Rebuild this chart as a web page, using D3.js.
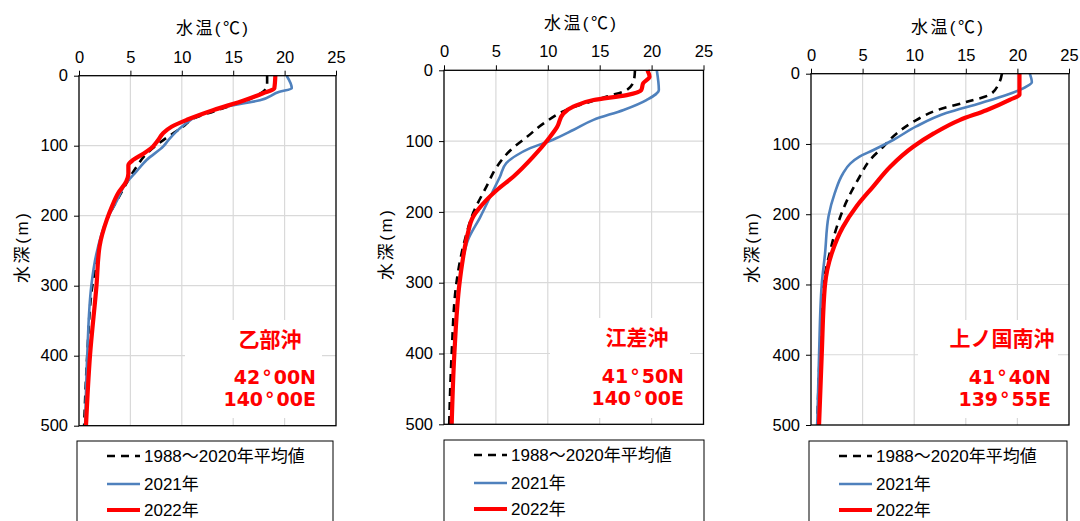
<!DOCTYPE html>
<html><head><meta charset="utf-8">
<script src="https://cdn.jsdelivr.net/npm/d3@7"></script>
<style>
body{margin:0;background:#fff;}
svg{display:block;font-family:"Liberation Sans","Noto Sans CJK JP",sans-serif;}
</style></head>
<body><svg id="c" width="1080" height="521"></svg>
<script>
// ---- data ----
const tempTicks = [0, 5, 10, 15, 20, 25];
const depthTicks = [0, 100, 200, 300, 400, 500];
const legendLabels = ["1988～2020年平均値", "2021年", "2022年"];
const stationNames = ["乙部沖", "江差沖", "上ノ国南沖"];
const stationLat = [["42", "00N"], ["41", "50N"], ["41", "40N"]];
const stationLon = [["140", "00E"], ["140", "00E"], ["139", "55E"]];

// [depth(m), temperature(°C)]
const otobeAvg = [[0,18.3],[15,18.3],[30,17.1],[51,13.1],[60,11.3],[73,10.1],[92,8.2],[111,6.6],[130,5.6],[149,4.8],[178,3.7],[206,2.7],[250,1.9],[300,1.3],[400,0.8],[500,0.5]];
const otobe2021 = [[0,20.2],[18,20.7],[23,19.5],[35,17.6],[44,14.4],[56,11.8],[73,10.0],[92,8.7],[101,8.2],[120,6.6],[140,5.4],[153,4.6],[178,3.7],[206,2.7],[254,1.7],[300,1.2],[400,0.8],[500,0.6]];
const otobe2022 = [[0,19.1],[18,19.0],[25,17.9],[35,16.1],[49,13.1],[63,10.5],[73,9.0],[82,8.2],[92,7.7],[101,7.2],[111,6.3],[120,5.3],[128,4.8],[140,4.8],[151,4.6],[168,3.8],[187,3.2],[206,2.7],[244,2.0],[300,1.7],[400,1.07],[500,0.68]];

const esashiAvg = [[0,18.4],[14,18.3],[28,17.6],[37,15.7],[56,11.8],[75,9.6],[94,8.0],[113,6.4],[136,5.1],[164,4.1],[202,2.8],[240,2.0],[300,1.2],[400,0.74],[500,0.5]];
const esashi2021 = [[0,20.5],[28,20.7],[42,19.5],[56,17.3],[70,14.4],[84,12.5],[98,10.5],[110,8.3],[120,7.0],[131,6.0],[150,5.4],[174,4.6],[207,3.5],[240,2.3],[268,1.8],[300,1.5],[400,1.0],[500,0.75]];
const esashi2022 = [[0,19.6],[9,19.8],[18,19.2],[28,19.0],[35,17.6],[42,14.4],[51,12.5],[61,11.5],[80,10.9],[98,10.0],[122,8.6],[150,6.7],[169,5.1],[183,4.1],[193,3.5],[207,2.8],[230,2.3],[268,1.8],[300,1.5],[400,1.0],[500,0.74]];

const kaminokuniAvg = [[0,18.5],[14,18.2],[30,17.3],[40,15.1],[52,12.2],[66,10.2],[85,8.3],[104,7.0],[123,5.7],[147,4.7],[180,3.5],[218,2.5],[256,1.8],[300,1.2],[400,0.85],[500,0.6]];
const kaminokuni2021 = [[0,21.2],[12,21.4],[18,20.9],[30,19.0],[42,16.4],[56,13.1],[75,10.2],[94,8.0],[109,6.0],[118,4.7],[128,3.8],[142,3.1],[170,2.3],[203,1.7],[256,1.36],[300,1.04],[400,0.78],[500,0.6]];
const kaminokuni2022 = [[0,20.2],[30,20.2],[37,19.3],[52,17.0],[66,14.4],[85,11.9],[104,9.9],[132,7.7],[161,6.0],[189,4.4],[218,3.1],[256,2.0],[300,1.36],[400,1.04],[500,0.78]];

const panelSeries = [
  [otobeAvg, otobe2021, otobe2022],
  [esashiAvg, esashi2021, esashi2022],
  [kaminokuniAvg, kaminokuni2021, kaminokuni2022]
];

// ---- layout ----
const panels = [
  {x0:79, x1:336, y0:75.7, y1:425.7, titleX:212, titleY:28, tickY:57, ylabX:22, ylabY:248,
   box:[185,320,137,98], nameX:270, nameY:339, coordX:316, latY:377, lonY:399, leg:[77,441,256]},
  {x0:444, x1:703.5, y0:70.3, y1:424.3, titleX:580, titleY:23, tickY:51, ylabX:386, ylabY:245,
   box:[550,318,140,100], nameX:637, nameY:337, coordX:684, latY:376, lonY:398, leg:[444,440,260]},
  {x0:811, x1:1069, y0:73.7, y1:425, titleX:947, titleY:27, tickY:55, ylabX:752, ylabY:248,
   box:[918,320,140,98], nameX:1002, nameY:338, coordX:1051, latY:377, lonY:399, leg:[809,441,258]}
];

const styles = [
  {color:"#000000", width:2.6, dash:"8,6"},
  {color:"#4f81bd", width:2.6, dash:null},
  {color:"#ff0000", width:4.2, dash:null}
];

const svg = d3.select("#c");

function coordText(g, x, yy, parts) {
  const t = g.append("text").attr("x", x).attr("y", yy).attr("text-anchor", "end")
    .attr("dominant-baseline", "central").attr("font-size", 19).attr("font-weight", "bold")
    .attr("font-family", "'DejaVu Sans', sans-serif").attr("fill", "#ff0000");
  t.append("tspan").text(parts[0]);
  t.append("tspan").attr("dx", 2).text("°");
  t.append("tspan").attr("dx", 2).text(parts[1]);
}

panels.forEach((p, i) => {
  const x = d3.scaleLinear().domain([0, 25]).range([p.x0, p.x1]);
  const y = d3.scaleLinear().domain([0, 500]).range([p.y0, p.y1]);
  const g = svg.append("g");

  // grid
  g.selectAll(".vg").data(tempTicks.slice(1, -1)).join("line")
    .attr("x1", d => x(d)).attr("x2", d => x(d)).attr("y1", p.y0).attr("y2", p.y1)
    .attr("stroke", "#d9d9d9").attr("stroke-width", 1.2);
  g.selectAll(".hg").data(depthTicks.slice(1, -1)).join("line")
    .attr("x1", p.x0).attr("x2", p.x1).attr("y1", d => y(d)).attr("y2", d => y(d))
    .attr("stroke", "#d9d9d9").attr("stroke-width", 1.2);

  // white label box
  g.append("rect").attr("x", p.box[0]).attr("y", p.box[1]).attr("width", p.box[2]).attr("height", p.box[3])
    .attr("fill", "#fff");

  // series
  const line = d3.line().x(d => x(d[1])).y(d => y(d[0])).curve(d3.curveMonotoneY);
  panelSeries[i].forEach((s, k) => {
    const st = styles[k];
    g.append("path").datum(s).attr("d", line).attr("fill", "none")
      .attr("stroke", st.color).attr("stroke-width", st.width)
      .attr("stroke-dasharray", st.dash).attr("stroke-linejoin", "round");
  });

  // frame
  g.append("rect").attr("x", p.x0).attr("y", p.y0).attr("width", p.x1 - p.x0).attr("height", p.y1 - p.y0)
    .attr("fill", "none").attr("stroke", "#000").attr("stroke-width", 1.3);

  // axes
  const top = d3.axisTop(x).tickValues(tempTicks).tickSize(5).tickPadding(6).tickFormat(d3.format("d"));
  const ga = g.append("g").attr("transform", `translate(0,${p.y0})`).call(top);
  ga.select(".domain").remove();
  ga.selectAll("text").attr("font-size", 16.5).attr("fill", "#000")
    .attr("y", null).attr("dy", null)
    .attr("transform", `translate(0,${p.tickY - p.y0})`).attr("dominant-baseline", "central");
  const left = d3.axisLeft(y).tickValues(depthTicks).tickSize(5).tickPadding(6).tickFormat(d3.format("d"));
  const gl = g.append("g").attr("transform", `translate(${p.x0},0)`).call(left);
  gl.select(".domain").remove();
  gl.selectAll("text").attr("font-size", 16.5).attr("fill", "#000");
  ga.selectAll("line").attr("stroke", "#000");
  gl.selectAll("line").attr("stroke", "#000");

  // titles
  g.append("text").attr("x", p.titleX).attr("y", p.titleY).attr("text-anchor", "middle")
    .attr("dominant-baseline", "central").attr("font-size", 17)
    .attr("textLength", 72).attr("lengthAdjust", "spacing").text("水温(℃)");
  g.append("text").attr("transform", `translate(${p.ylabX},${p.ylabY}) rotate(-90)`)
    .attr("text-anchor", "middle").attr("dominant-baseline", "central").attr("font-size", 17)
    .attr("textLength", 70).attr("lengthAdjust", "spacing").text("水深(m)");

  // station labels
  g.append("text").attr("x", p.nameX).attr("y", p.nameY).attr("text-anchor", "middle")
    .attr("dominant-baseline", "central").attr("font-size", 21).attr("font-weight", "bold")
    .attr("fill", "#ff0000").text(stationNames[i]);
  coordText(g, p.coordX, p.latY, stationLat[i]);
  coordText(g, p.coordX, p.lonY, stationLon[i]);

  // legend
  const [lx, ly, lw] = p.leg;
  g.append("rect").attr("x", lx).attr("y", ly).attr("width", lw).attr("height", 100)
    .attr("fill", "#fff").attr("stroke", "#000").attr("stroke-width", 1);
  const rowY = [15, 43, 69];
  legendLabels.forEach((lab, k) => {
    const st = styles[k];
    g.append("line").attr("x1", lx + 30).attr("x2", lx + 63).attr("y1", ly + rowY[k]).attr("y2", ly + rowY[k])
      .attr("stroke", st.color).attr("stroke-width", st.width).attr("stroke-dasharray", st.dash);
    g.append("text").attr("x", lx + 67).attr("y", ly + rowY[k]).attr("dominant-baseline", "central")
      .attr("font-size", 17).text(lab);
  });
});
</script></body></html>
